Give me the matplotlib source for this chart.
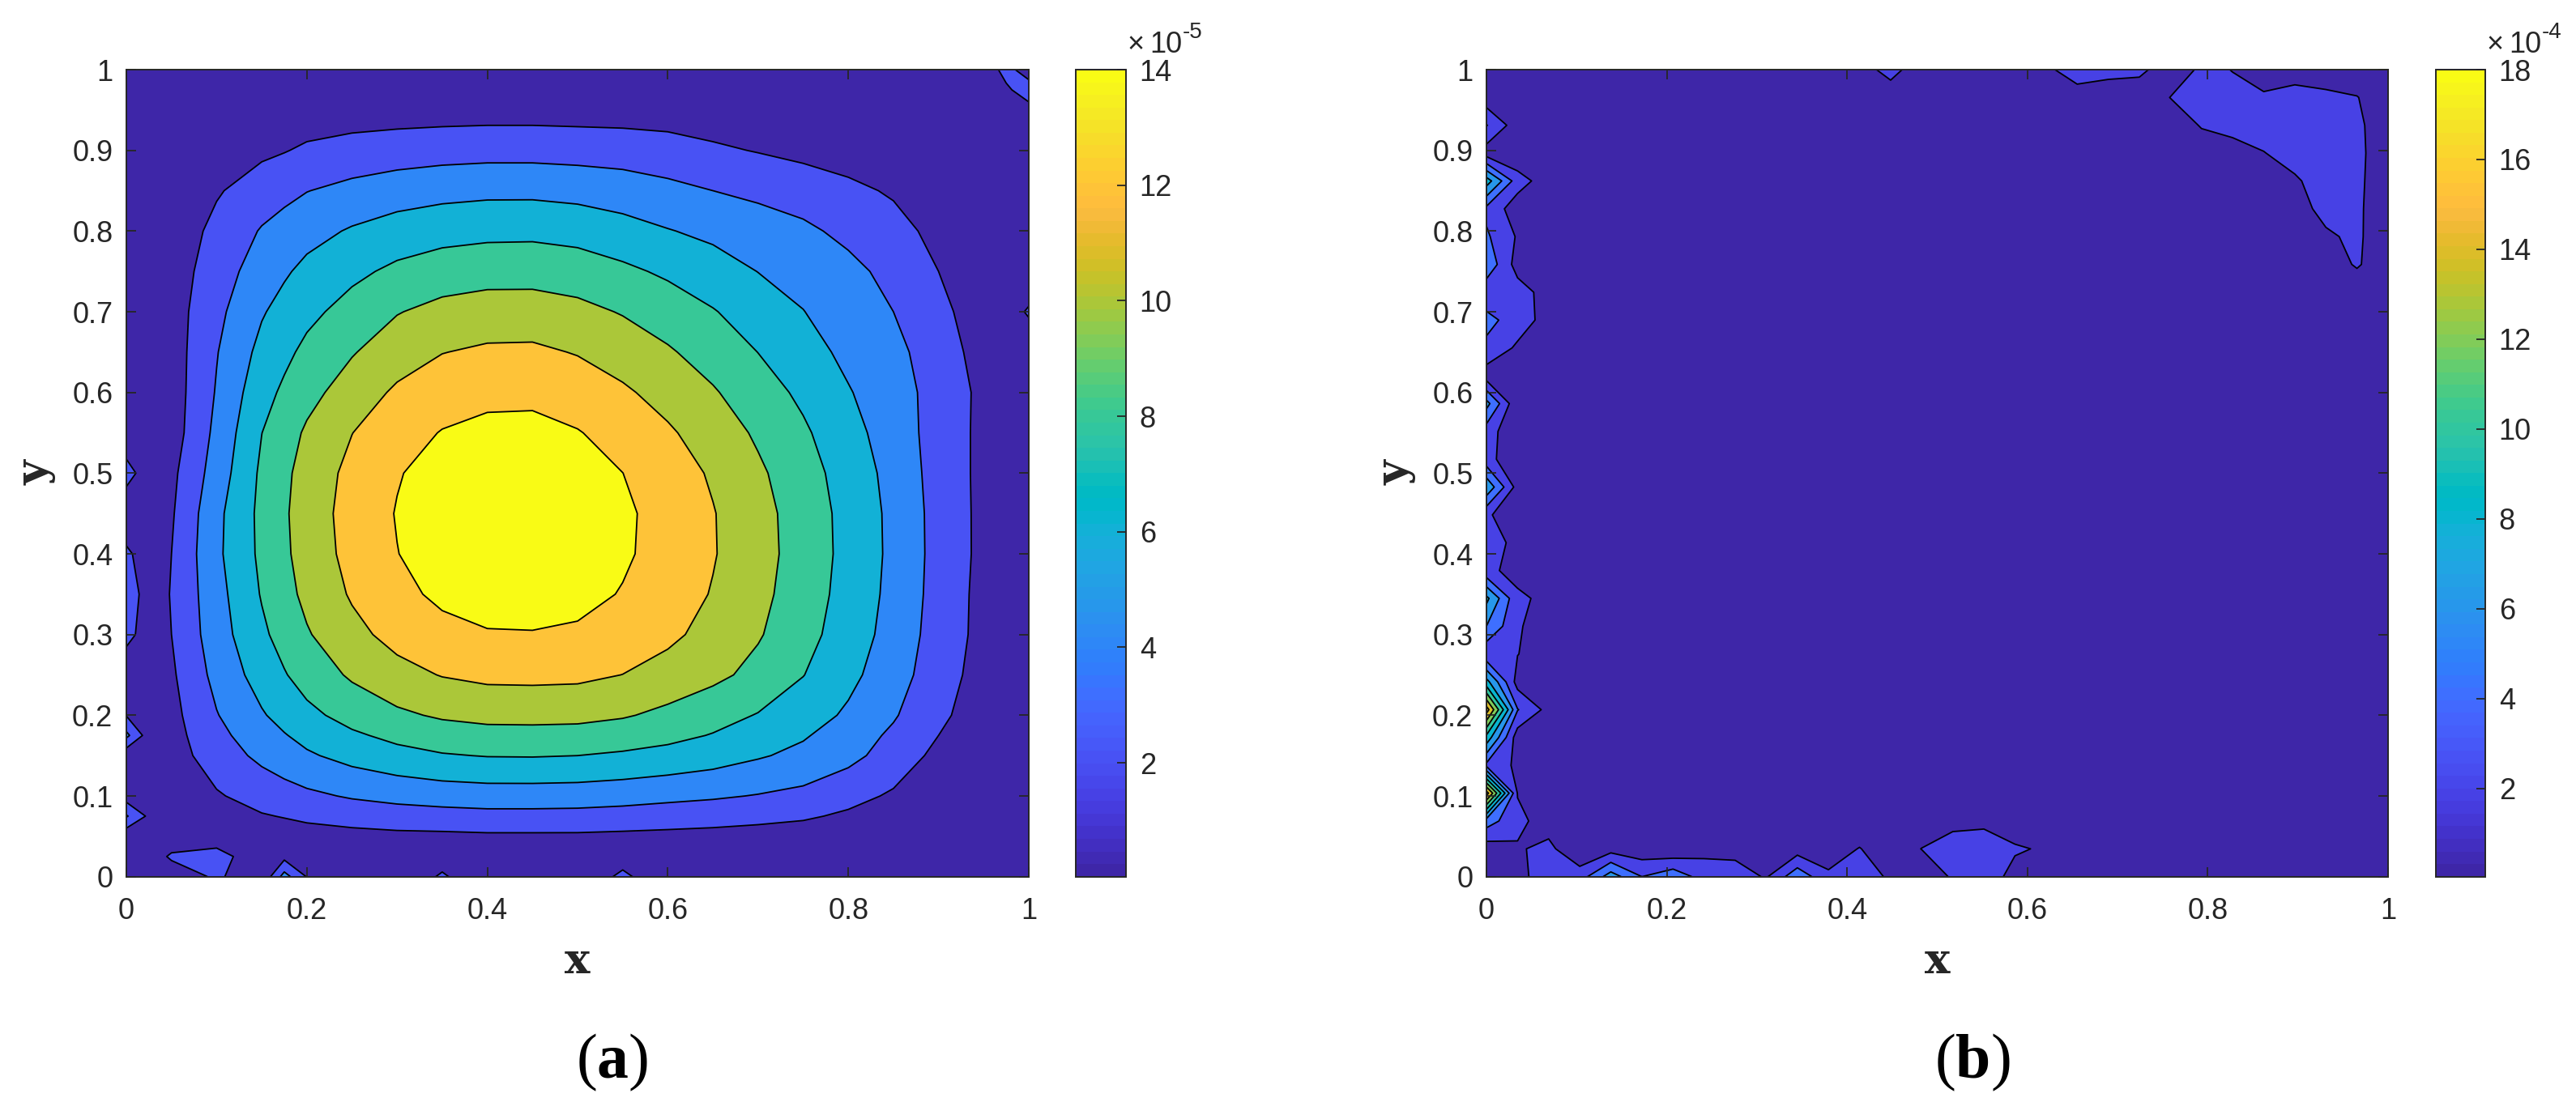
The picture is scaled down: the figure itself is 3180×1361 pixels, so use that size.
import numpy as np
import matplotlib
matplotlib.use('Agg')
import matplotlib.pyplot as plt
from matplotlib.cm import ScalarMappable
from matplotlib.colors import ListedColormap, Normalize

plt.rcParams['font.family'] = 'Liberation Sans'
plt.rcParams['mathtext.fontset'] = 'custom'
plt.rcParams['mathtext.rm'] = 'Liberation Serif'
plt.rcParams['mathtext.bf'] = 'Liberation Serif:bold'

# MATLAB parula, 64 steps
parula = [
    [0.2422, 0.1504, 0.6603], [0.2504, 0.1650, 0.7076], [0.2578, 0.1818, 0.7511], [0.2647, 0.1978, 0.7952],
    [0.2706, 0.2147, 0.8364], [0.2751, 0.2342, 0.8710], [0.2783, 0.2559, 0.8991], [0.2803, 0.2782, 0.9221],
    [0.2813, 0.3006, 0.9414], [0.2810, 0.3228, 0.9579], [0.2795, 0.3447, 0.9717], [0.2760, 0.3667, 0.9829],
    [0.2699, 0.3892, 0.9906], [0.2602, 0.4123, 0.9952], [0.2440, 0.4358, 0.9988], [0.2206, 0.4603, 0.9973],
    [0.1963, 0.4847, 0.9892], [0.1834, 0.5074, 0.9798], [0.1786, 0.5289, 0.9682], [0.1764, 0.5499, 0.9520],
    [0.1687, 0.5703, 0.9359], [0.1540, 0.5902, 0.9218], [0.1460, 0.6091, 0.9079], [0.1380, 0.6276, 0.8973],
    [0.1248, 0.6459, 0.8883], [0.1113, 0.6635, 0.8763], [0.0952, 0.6798, 0.8598], [0.0689, 0.6948, 0.8394],
    [0.0297, 0.7082, 0.8163], [0.0036, 0.7203, 0.7917], [0.0067, 0.7312, 0.7660], [0.0433, 0.7411, 0.7394],
    [0.0964, 0.7500, 0.7120], [0.1408, 0.7584, 0.6842], [0.1717, 0.7670, 0.6554], [0.1938, 0.7758, 0.6251],
    [0.2161, 0.7843, 0.5923], [0.2470, 0.7918, 0.5567], [0.2906, 0.7973, 0.5188], [0.3406, 0.8008, 0.4789],
    [0.3909, 0.8029, 0.4354], [0.4456, 0.8024, 0.3909], [0.5044, 0.7993, 0.3480], [0.5616, 0.7942, 0.3045],
    [0.6174, 0.7876, 0.2612], [0.6720, 0.7793, 0.2227], [0.7242, 0.7698, 0.1910], [0.7738, 0.7598, 0.1646],
    [0.8203, 0.7498, 0.1535], [0.8634, 0.7406, 0.1596], [0.9035, 0.7330, 0.1774], [0.9393, 0.7288, 0.2100],
    [0.9728, 0.7316, 0.2394], [0.9956, 0.7434, 0.2371], [0.9970, 0.7659, 0.2199], [0.9952, 0.7893, 0.2028],
    [0.9892, 0.8136, 0.1885], [0.9786, 0.8386, 0.1766], [0.9676, 0.8639, 0.1643], [0.9610, 0.8890, 0.1537],
    [0.9597, 0.9135, 0.1423], [0.9628, 0.9373, 0.1265], [0.9691, 0.9606, 0.1064], [0.9769, 0.9839, 0.0805],
]
cmap = ListedColormap(parula)

# panel (a), values in units of 1e-5
xa = [0, .025, .05, .1, .15, .175, .2, .25, .3, .35, .4, .45, .5, .55, .6, .65, .7, .75, .8, .85, .9, .95, .975, 1]
ya = [0, .025, .05, .075, .1, .15, .175, .2, .25, .3, .35, .4, .45, .5, .55, .6, .65, .7, .75, .8, .85, .9, .95, .975, 1]
za = [
    [.3, .2, .4, 2.4, .2, 4.8, 1.9, .2, .2, 2.3, .2, .2, .2, 2.5, .2, .2, .2, .2, .1, .1, .1, .1, .1, .1],
    [.3, .5, 2.4, 3.0, .3, 1.4, .5, .6, .7, 1.0, .8, .8, .8, 1.0, .7, .6, .5, .5, .4, .3, .2, .1, .1, .1],
    [.5, .3, .2, .6, .9, 1.05, 1.2, 1.4, 1.55, 1.6, 1.7, 1.7, 1.7, 1.6, 1.5, 1.4, 1.25, 1.1, .8, .6, .4, .2, .1, .1],
    [4.2, 1.6, .45, 1.2, 1.85, 2.1, 2.4, 2.8, 3.1, 3.25, 3.4, 3.4, 3.35, 3.2, 3.0, 2.8, 2.55, 2.25, 1.7, 1.2, .75, .35, .2, .1],
    [1.0, .5, .7, 1.8, 2.8, 3.2, 3.6, 4.2, 4.6, 4.9, 5.05, 5.05, 5.0, 4.8, 4.5, 4.25, 3.9, 3.5, 2.6, 1.75, 1.1, .5, .3, .1],
    [.5, .6, 1.1, 3.0, 4.45, 5.1, 5.73, 6.67, 7.37, 7.85, 8.08, 8.11, 8.0, 7.75, 7.4, 6.9, 6.2, 5.5, 4.6, 3.1, 1.5, .7, .4, .1],
    [4.5, 1.0, 1.25, 3.45, 5.13, 5.88, 6.6, 7.69, 8.5, 9.05, 9.32, 9.35, 9.2, 8.9, 8.5, 7.9, 7.1, 6.2, 5.0, 3.65, 2.0, .85, .5, .1],
    [1.9, .8, 1.4, 3.9, 5.81, 6.67, 7.49, 8.72, 9.64, 10.26, 10.57, 10.6, 10.6, 10.2, 9.5, 8.7, 7.9, 6.9, 5.7, 4.2, 2.4, 1.0, .6, .1],
    [.6, .7, 1.7, 4.6, 6.85, 7.86, 8.83, 10.28, 11.36, 12.09, 12.45, 12.49, 12.4, 11.98, 11.33, 10.49, 9.42, 8.05, 6.51, 4.88, 2.91, 1.2, .7, .2],
    [2.6, 1.1, 2.0, 5.1, 7.62, 8.75, 9.82, 11.44, 12.65, 13.46, 13.86, 13.9, 13.72, 13.17, 12.38, 11.4, 10.18, 8.69, 7.03, 5.27, 3.14, 1.4, .8, .2],
    [3.3, 1.0, 2.1, 5.3, 8.14, 9.34, 10.49, 12.21, 13.51, 14.37, 14.8, 14.85, 14.56, 13.89, 12.98, 11.88, 10.54, 9.01, 7.28, 5.46, 3.26, 1.4, .8, .2],
    [2.4, .9, 2.0, 5.6, 8.42, 9.65, 10.84, 12.62, 13.96, 14.85, 15.3, 15.35, 15.0, 14.27, 13.29, 12.13, 10.73, 9.17, 7.41, 5.56, 3.32, 1.5, .8, .2],
    [.4, .7, 1.77, 5.5, 8.5, 9.75, 10.95, 12.75, 14.1, 15.0, 15.45, 15.5, 15.11, 14.33, 13.31, 12.1, 10.67, 9.12, 7.37, 5.53, 3.3, 1.5, .8, .2],
    [2.8, .9, 1.53, 4.9, 8.36, 9.59, 10.77, 12.55, 13.87, 14.76, 15.2, 15.25, 14.82, 14.01, 12.97, 11.76, 10.33, 8.83, 7.14, 5.36, 3.2, 1.5, .8, .2],
    [.5, .6, 1.03, 4.5, 7.98, 9.16, 10.28, 11.97, 13.24, 14.09, 14.51, 14.55, 14.1, 13.29, 12.26, 11.08, 9.71, 8.3, 6.71, 5.03, 3.2, 1.5, .8, .2],
    [.2, .4, .99, 4.15, 7.3, 8.35, 9.38, 10.92, 12.32, 13.11, 13.5, 13.55, 13.08, 12.29, 11.31, 10.19, 8.89, 7.6, 6.14, 4.8, 3.3, 1.5, .8, .2],
    [.1, .3, 1.02, 3.9, 6.57, 7.54, 8.47, 9.86, 11.07, 11.95, 12.31, 12.35, 11.89, 11.14, 10.22, 9.17, 7.98, 6.82, 5.51, 4.54, 3.0, 1.2, .7, .2],
    [.1, .3, 1.08, 3.5, 5.82, 6.68, 7.5, 8.73, 9.9, 10.59, 10.91, 10.94, 10.54, 9.87, 9.05, 8.12, 7.07, 6.04, 5.1, 4.0, 2.5, 1.0, .8, 2.3],
    [.1, .3, 1.0, 3.0, 5.0, 5.75, 6.5, 7.55, 8.42, 8.98, 9.25, 9.25, 9.0, 8.4, 7.68, 6.88, 5.97, 5.4, 4.55, 3.4, 2.0, .9, .5, .1],
    [.1, .2, .71, 2.55, 4.15, 4.7, 5.33, 6.2, 6.87, 7.3, 7.5, 7.55, 7.3, 6.75, 6.1, 5.55, 5.0, 4.4, 3.5, 2.6, 1.5, .7, .4, .1],
    [.1, .2, .5, 1.8, 3.0, 3.5, 3.95, 4.55, 5.05, 5.37, 5.55, 5.55, 5.35, 5.0, 4.5, 4.0, 3.55, 3.05, 2.4, 1.8, 1.0, .5, .3, .1],
    [.1, .1, .4, 1.2, 1.6, 1.9, 2.3, 2.75, 3.0, 3.2, 3.3, 3.3, 3.2, 3.1, 2.85, 2.3, 1.9, 1.5, 1.2, .9, .6, .3, .2, .1],
    [.1, .1, .2, .4, .7, .8, .9, 1.0, 1.1, 1.15, 1.2, 1.2, 1.15, 1.1, 1.0, .9, .8, .6, .5, .4, .2, .1, 1.0, 1.0],
    [.1, .1, .1, .2, .3, .35, .4, .5, .55, .6, .6, .6, .6, .55, .5, .45, .4, .3, .25, .2, .1, .1, 1.5, 3.5],
    [.1, .1, .1, .1, .1, .1, .1, .1, .1, .1, .1, .1, .1, .1, .1, .1, .1, .1, .1, .1, .1, .1, 3.0, .5],
]

# panel (b), units of 1e-4, on a 30 x 30 grid, nearly flat except at the edges
nb = 30
b_x0 = [.3, .9, 5.0, 17, 3.5, 9.3, 17, 8.7, 2.4, 6.0, 8.5, 2.5, 3.9, 2.4, 7.6, 2.8, 3.0, 6.7, 1.0, 3.5,
        4.65, 2.6, 5.5, 4.3, 3.5, 9.0, 1.0, 4.1, .8, .1]
b_x1 = [1.2, 1.8, 2.5, 1.9, 1.6, .9, 4.1, 1.2, 2.05, 2.17, 2.4, 1.3, .9, .3, 1.2, .3, .3, .3, .3, 1.68,
        3.0, 2.9, 1.17, 1.8, .9, 2.9, .4, .88, .1, .1]
b_x2 = [3.4, 2.5, 1.1, .5, .3, .3, 1.34, .3, .9, 1.18, 1.47, .4, .2, .1, .1, .1, .1, .1, .1, .3,
        1.22, 1.17, .3, .3, .2, .9, .1, .1, .1, .1]
# bottom rows, from x index 3 to the right
b_y0 = [3.0, 7.0, 4.0, 5.4, 3.1, 3.0, 1.8, 5.4, 2.4, 3.0, 1.7, .3, 2.3, 2.5, 1.7, .1]
b_y1 = [.3, 1.15, .72, .26, 1.4, 1.3, .2, 1.0, .8, 2.1, .5, 2.05, 3.3, 3.4, 2.1, 1.9]
b_y2 = [.1, .1, .1, .1, .1, .1, .1, .1, .1, .3, .1, .3, 1.2, 1.43, 1.5, .3]
# upper right patch, x index 12..29, rows y index 21..29
b_top = [
    [.1, .1, .1, .1, .1, .1, .1, .1, .1, .1, .1, .1, .1, .1, .1, .1, .2, .1],
    [.1, .1, .1, .1, .1, .1, .1, .1, .1, .1, .1, .1, .1, .1, .5, .5, 2.3, .2],
    [.1, .1, .1, .1, .1, .1, .1, .1, .1, .1, .1, .1, .2, .5, .8, 1.7, 2.4, .4],
    [.1, .1, .1, .1, .1, .1, .1, .1, .1, .1, .1, .1, .5, 1.0, 1.2, 2.6, 2.4, .5],
    [.1, .1, .1, .1, .1, .1, .1, .1, .1, .1, .1, .2, .8, 1.5, 1.8, 2.7, 2.5, .5],
    [.1, .1, .1, .1, .1, .1, .1, .1, .1, .1, .3, .5, 1.5, 1.95, 2.6, 2.7, 2.6, .5],
    [.1, .1, .1, .1, .1, .1, .1, .1, .1, .1, .3, 2.2, 2.4, 2.7, 2.7, 2.7, 2.5, .5],
    [.1, .35, .1, .1, .1, .1, .1, 1.08, .15, .1, 2.05, 2.7, 2.5, 2.4, 3.0, 2.6, 2.1, .3],
    [.8, 3.0, .3, .3, .3, .3, 1.6, 3.0, 3.0, 2.7, .3, 2.5, 1.95, .5, .8, .5, .3, .1],
]

levels_a = [2, 4, 6, 8, 10, 12, 14]
levels_b = [2, 4, 6, 8, 10, 12, 14, 16, 18]
xticks = [0, .2, .4, .6, .8, 1]
xticklabels = ['0', '0.2', '0.4', '0.6', '0.8', '1']
yticks = [0, .1, .2, .3, .4, .5, .6, .7, .8, .9, 1]
yticklabels = ['0', '0.1', '0.2', '0.3', '0.4', '0.5', '0.6', '0.7', '0.8', '0.9', '1']
cticks_a = [2, 4, 6, 8, 10, 12, 14]
cticks_b = [2, 4, 6, 8, 10, 12, 14, 16, 18]

# put the sparse pieces of panel (b) into a full grid
xb = np.arange(nb) / (nb - 1)
yb = np.arange(nb) / (nb - 1)
zb = np.full((nb, nb), 0.1)
zb[:, 0] = b_x0
zb[:, 1] = b_x1
zb[:, 2] = b_x2
zb[0, 3:3 + len(b_y0)] = b_y0
zb[1, 3:3 + len(b_y1)] = b_y1
zb[2, 3:3 + len(b_y2)] = b_y2
zb[21:30, 12:30] = b_top

W, H = 3180, 1361
DARK = '#262626'
TICK_SIZE = 26
fig = plt.figure(figsize=(W / 100, H / 100), dpi=100)


def px_box(left, top, right, bottom):
    return [left / W, 1 - bottom / H, (right - left) / W, (bottom - top) / H]


def put_text(x, y, s, **kw):
    fig.text(x / W, 1 - y / H, s, **kw)


def draw_panel(x, y, z, levels, cticks, vmin, ax_box, cax_box, exponent, label, label_x, xlabel_x, ylabel_x):
    ax = fig.add_axes(px_box(*ax_box))
    cax = fig.add_axes(px_box(*cax_box))
    norm = Normalize(vmin, levels[-1])
    band_colors = [cmap(norm(v)) for v in [0] + levels]
    ax.contourf(x, y, z, levels=[-1] + levels + [100], colors=band_colors)
    ax.contour(x, y, z, levels=levels, colors='k', linewidths=1.3)
    ax.set_xlim(0, 1)
    ax.set_ylim(0, 1)
    ax.set_xticks(xticks)
    ax.set_xticklabels(xticklabels)
    ax.set_yticks(yticks)
    ax.set_yticklabels(yticklabels)
    ax.set_axisbelow(False)
    ax.tick_params(axis='x', direction='in', top=True, length=8.5, width=1.3, color=DARK,
                   labelsize=TICK_SIZE, labelcolor=DARK, pad=18)
    ax.tick_params(axis='y', direction='in', right=True, length=8.5, width=1.3, color=DARK,
                   labelsize=TICK_SIZE, labelcolor=DARK, pad=12)
    for s in ax.spines.values():
        s.set_linewidth(1.4)
        s.set_color(DARK)

    cb = fig.colorbar(ScalarMappable(norm=norm, cmap=cmap), cax=cax, ticks=cticks)
    cb.ax.tick_params(direction='in', length=8, width=1.3, color=DARK, labelsize=TICK_SIZE,
                      labelcolor=DARK, pad=12)
    cb.outline.set_linewidth(1.4)
    cb.outline.set_edgecolor(DARK)

    right = cax_box[2]
    put_text(right + 2, 65, '\u00d7', fontsize=TICK_SIZE, color=DARK, va='baseline', ha='left')
    put_text(right + 29, 65, '10', fontsize=TICK_SIZE, color=DARK, va='baseline', ha='left')
    put_text(right + 70, 47, exponent, fontsize=20, color=DARK, va='baseline', ha='left')
    put_text(xlabel_x, 1188, 'x', family='DejaVu Serif', fontweight='bold', fontsize=38, color=DARK,
             ha='center', va='center')
    put_text(ylabel_x, 584, 'y', family='DejaVu Serif', fontweight='bold', fontsize=38, color=DARK,
             ha='center', va='center', rotation=90)
    put_text(label_x, 1312, r'$\mathrm{(}\mathbf{' + label + r'}\mathrm{)}$', fontsize=56, color='black',
             ha='center', va='center')


draw_panel(xa, ya, np.array(za), levels_a, cticks_a, 0.03, (156, 86, 1270, 1082.7), (1328, 86, 1390, 1082.7),
           '-5', 'a', 756, 713, 44)
draw_panel(xb, yb, zb, levels_b, cticks_b, 0.04, (1835, 86, 2948, 1082.7), (3007, 86, 3068, 1082.7),
           '-4', 'b', 2435, 2392, 1723)

fig.savefig('out.png', dpi=100)
